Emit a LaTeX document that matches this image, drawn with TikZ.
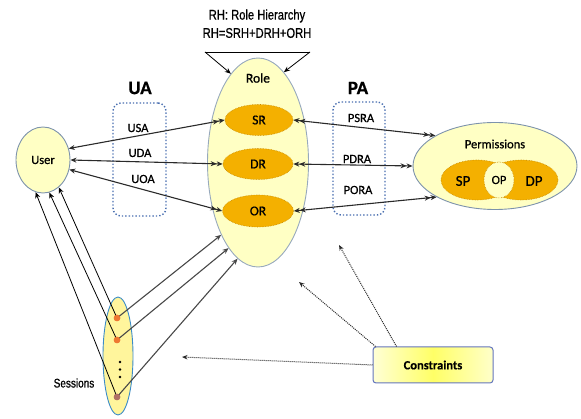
\documentclass[tikz,border=0pt]{standalone}
\usepackage{fontspec}
\setmainfont[FakeBold=0.7]{Carlito}
\newfontfamily\narrowfont[FakeStretch=0.8,FakeBold=0.8]{Liberation Sans}
\usetikzlibrary{shapes.geometric,arrows.meta,calc}
\definecolor{ly}{HTML}{FFFFC4}
\definecolor{sy}{HTML}{FFF59C}
\definecolor{orng}{HTML}{F4B000}
\definecolor{orngdk}{HTML}{C88A00}
\definecolor{bgray}{HTML}{7D93AC}
\definecolor{dotblue}{HTML}{4A6FB0}
\definecolor{lnk}{HTML}{2A2A2A}
\definecolor{gl}{HTML}{484848}
\tikzset{
  bigell/.style={ellipse, draw=bgray, line width=0.9pt, fill=ly, inner sep=0pt},
  orell/.style={ellipse, fill=orng, draw=orngdk, densely dotted, line width=0.6pt, inner sep=0pt,
     font=\fontsize{13.5}{15}\selectfont},
  lab/.style={font=\fontsize{12.5}{14}\selectfont, inner sep=0pt},
  boxlab/.style={font=\fontsize{19}{21}\selectfont\bfseries, inner sep=0pt},
  narrowlab/.style={font=\fontsize{14}{16}\narrowfont, inner sep=0pt},
  dotbox/.style={draw=dotblue, dotted, line width=1.4pt, rounded corners=8pt},
  ua/.style={draw=lnk, line width=1.1pt, <->>},
  pa/.style={draw=lnk, line width=1.1pt, <<->>},
  tosess/.style={draw=black, line width=0.8pt, ->},
  torole/.style={draw=gl, line width=1.1pt, ->},
  cons/.style={draw=lnk, densely dotted, line width=1pt, arrows={-Stealth[length=5.5pt,width=4.5pt]}},
  sdot/.style={circle, inner sep=0pt, minimum size=6.5pt}
}
\begin{document}
\begin{tikzpicture}[x=1pt,y=-1pt, >={Stealth[length=6pt,width=5pt]}]
\useasboundingbox (0,0) rectangle (581,419);
% title
\node[narrowlab] (t1) at (257,16) {RH: Role Hierarchy};
\node[narrowlab] (t2) at (257,33) {RH=SRH+DRH+ORH};
% UA / PA boxes
\node[boxlab] (ualbl) at (140,88) {UA};
\node[boxlab] (palbl) at (358,88) {PA};
\node[dotbox, minimum width=53pt, minimum height=113pt] (uabox) at (139.5,159.5) {};
\node[dotbox, minimum width=52pt, minimum height=113pt] (pabox) at (359,158.5) {};
% role
\node[bigell, draw=bgray!80, minimum width=101pt, minimum height=209pt] (role) at (258,162.5) {};
\node[lab, font=\fontsize{13.5}{15}\selectfont] (rolelbl) at (258,78) {Role};
\node[orell, minimum width=68pt, minimum height=31pt] (sr) at (259,120) {SR};
\node[orell, minimum width=70pt, minimum height=31pt] (dr) at (258,164) {DR};
\node[orell, minimum width=71pt, minimum height=32pt] (or) at (258,211) {OR};
% user
\node[bigell, minimum width=54pt, minimum height=66pt, font=\fontsize{12.5}{14}\selectfont] (user) at (43,160) {User};
% permissions
\node[bigell, minimum width=164pt, minimum height=87pt] (perm) at (495,166) {};
\node[lab] (permlbl) at (495,144) {Permissions};
\node[orell, minimum width=72pt, minimum height=40pt] (sp) at (477,180) {};
\node[orell, minimum width=73pt, minimum height=40pt] (dp) at (521.5,180) {};
\node[ellipse, fill=ly, draw=orngdk, densely dotted, line width=0.6pt, inner sep=0pt,
      minimum width=30pt, minimum height=36pt, font=\fontsize{12.5}{14}\selectfont] (op) at (499,180) {OP};
\node[lab, font=\fontsize{15}{16}\selectfont] (splbl) at (463,181) {SP};
\node[lab, font=\fontsize{15}{16}\selectfont] (dplbl) at (534,181) {DP};
% sessions
\node[ellipse, draw={rgb,255:red,60;green,140;blue,200}, line width=0.9pt, fill=sy, inner sep=0pt,
      minimum width=30pt, minimum height=118pt] (sess) at (118,356) {};
\node[narrowlab, font=\fontsize{12.5}{14}\narrowfont] (sesslbl) at (74,383) {Sessions};
% UA labels
\node[lab] (usa) at (138,128) {USA};
\node[lab] (uda) at (140,153) {UDA};
\node[lab] (uoa) at (143,179) {UOA};
% PA labels
\node[lab] (psra) at (361,118) {PSRA};
\node[lab] (pdra) at (357,159) {PDRA};
\node[lab] (pora) at (358,190) {PORA};
% constraints
\node[draw=bgray!80!blue, line width=1pt, rounded corners=3pt, left color=ly!70, right color=ly!90,
      middle color=yellow!60, minimum width=120pt, minimum height=36pt,
      font=\fontsize{12.5}{14}\selectfont\bfseries] (cons) at (433,365) {Constraints};
% hierarchy lines
\coordinate (rh1) at (205,52);
\coordinate (rh2) at (310,52);
\draw[black, line width=0.9pt] (rh1) -- (rh2);
\draw[tosess] (rh1) -- (role.107);
\draw[tosess] (rh2) -- (role.74);
% UA arrows
\draw[ua] (user.24) -- (sr.west);
\draw[ua] (user.0) -- (dr.west);
\draw[ua] (user.-20) -- (or.west);
% PA arrows
\draw[pa] (sr.east) -- (perm.153);
\draw[pa] (dr.east) -- (perm.west);
\draw[pa] (or.east) -- (perm.208);
% session dots
\node[sdot, fill={rgb,255:red,238;green,120;blue,50}] (s1) at (117,318) {};
\node[sdot, fill={rgb,255:red,238;green,120;blue,50}] (s2) at (117,340) {};
\node[sdot, fill={rgb,255:red,176;green,112;blue,100}] (s3) at (117,397) {};
\draw[tosess] (s1.center) -- (user.300);
\draw[tosess] (s2.center) -- (user.281);
\draw[tosess] (s3.center) -- (user.257);
\draw[torole] (s1.center) -- (role.243);
\draw[torole] (s2.center) -- (role.251);
\draw[torole] (s3.center) -- (role.258);
\node[sdot, fill={rgb,255:red,238;green,120;blue,50}] at (s1) {};
\node[sdot, fill={rgb,255:red,238;green,120;blue,50}] at (s2) {};
\node[sdot, fill={rgb,255:red,176;green,112;blue,100}] at (s3) {};
\node[circle, fill=black, inner sep=0pt, minimum size=2.8pt] (v1) at (120,362) {};
\node[circle, fill=black, inner sep=0pt, minimum size=2.8pt] (v2) at (120,369.5) {};
\node[circle, fill=black, inner sep=0pt, minimum size=2.8pt] (v3) at (120,377) {};
% constraints arrows
\coordinate (c1) at (182,357);
\coordinate (c2) at (299,282);
\coordinate (c3) at (339,245);
\draw[cons] (cons.west) -- (c1);
\draw[cons] ([xshift=3pt]cons.north west) -- (c2);
\draw[cons] ([xshift=24pt]cons.north west) -- (c3);
\end{tikzpicture}
\end{document}
